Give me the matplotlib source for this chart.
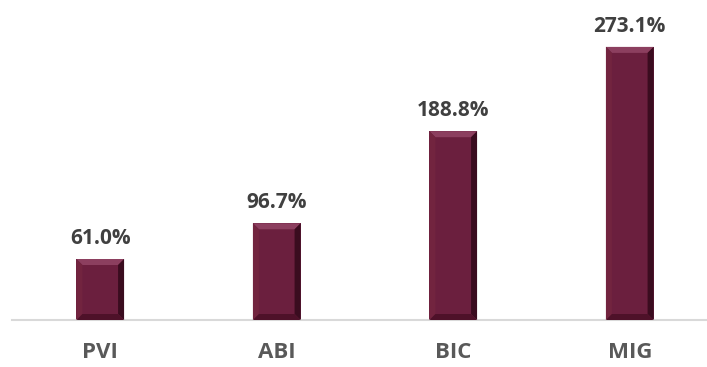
import matplotlib.pyplot as plt
from matplotlib.patches import Polygon

categories = ['PVI', 'ABI', 'BIC', 'MIG']
values = [61.0, 96.7, 188.8, 273.1]

W, H = 707, 367
fig = plt.figure(figsize=(W / 100, H / 100), dpi=100)
ax = fig.add_axes([12 / W, 47 / H, 695 / W, 300 / H])
ax.set_xlim(-0.5, -0.5 + 695 / 176.5)
ax.set_ylim(0, 300)

fonts = ['Liberation Sans Narrow', 'Open Sans', 'DejaVu Sans']
bar_w = 0.27
face = '#6b1f3e'
bars = ax.bar(range(len(values)), values, width=bar_w, color=face, zorder=2)

# bevel edges, ~6 px wide
bx = 6 / 176.5
by = 6.0
for b in bars:
    x0, x1 = b.get_x(), b.get_x() + b.get_width()
    y0, y1 = 0, b.get_height()
    ax.add_patch(Polygon([(x0, y1), (x1, y1), (x1 - bx, y1 - by), (x0 + bx, y1 - by)],
                         color='#8c3f5f', lw=0, zorder=3))
    ax.add_patch(Polygon([(x0, y0), (x0, y1), (x0 + bx, y1 - by), (x0 + bx, y0 + by)],
                         color='#72243f', lw=0, zorder=3))
    ax.add_patch(Polygon([(x1, y0), (x1, y1), (x1 - bx, y1 - by), (x1 - bx, y0 + by)],
                         color='#3a0c1f', lw=0, zorder=3))
    ax.add_patch(Polygon([(x0, y0), (x1, y0), (x1 - bx, y0 + by), (x0 + bx, y0 + by)],
                         color='#4e1129', lw=0, zorder=3))

for i, v in enumerate(values):
    ax.text(i, v + 10, f'{v:.1f}%', ha='center', va='bottom', fontsize=15,
            fontweight='bold', color='#404040', family=fonts)

for s in ['top', 'right', 'left']:
    ax.spines[s].set_visible(False)
ax.spines['bottom'].set_color('#d9d9d9')
ax.spines['bottom'].set_linewidth(1.5)
ax.set_yticks([])
ax.set_xticks(range(len(categories)))
ax.set_xticklabels(categories, fontsize=16, fontweight='bold', color='#595959', family=fonts)
ax.tick_params(axis='x', length=0, pad=16)

fig.savefig('out.png', dpi=100)
